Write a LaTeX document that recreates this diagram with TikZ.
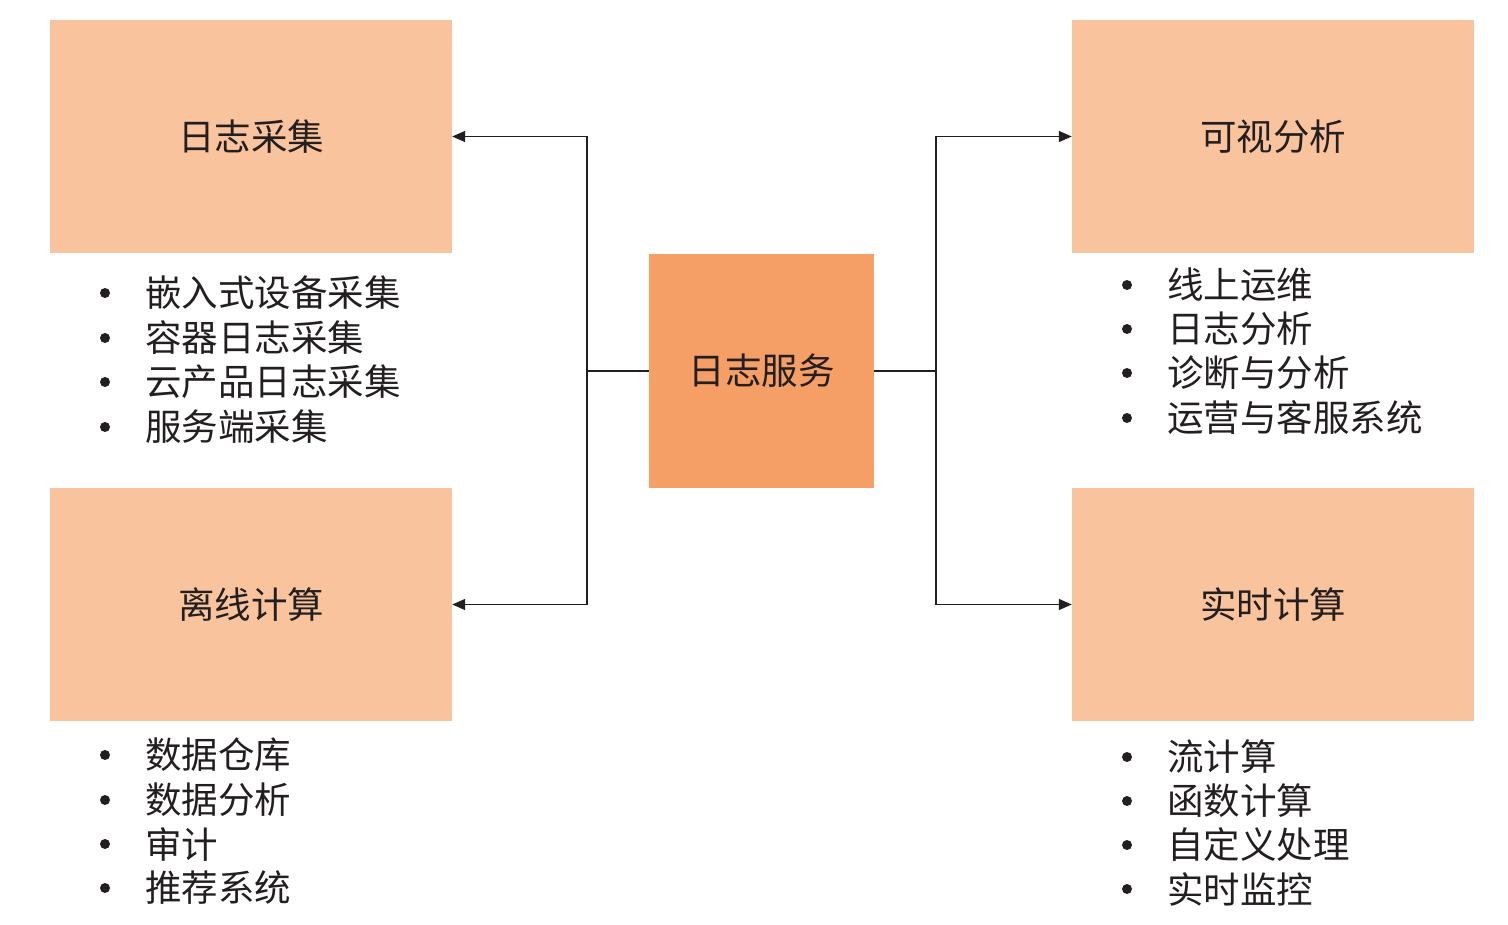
\documentclass[tikz,border=0pt]{standalone}
\usepackage{fontspec}
\setmainfont{Noto Sans CJK SC}
\usetikzlibrary{arrows.meta}
\definecolor{peach}{HTML}{F9C49D}
\definecolor{deep}{HTML}{F59E66}
\definecolor{ink}{HTML}{231F20}
\tikzset{
  box/.style={fill=peach, draw=none, inner sep=0pt, font=\fontsize{36.5}{40}\selectfont, text=ink},
  cbox/.style={fill=deep, draw=none, inner sep=0pt, font=\fontsize{36.5}{40}\selectfont, text=ink},
  item/.style={anchor=west, inner sep=0pt, font=\fontsize{36.5}{40}\selectfont, text=ink},
  dot/.style={circle, fill=ink, inner sep=0pt, minimum size=10pt},
  conn/.style={draw=ink, line width=1.4pt},
  arr/.style={conn, -{Triangle[length=13pt,width=11pt]}}
}
\begin{document}
\begin{tikzpicture}[x=1pt,y=-1pt]
\useasboundingbox (0,0) rectangle (1508,925);
% boxes
\node[box, minimum width=402pt, minimum height=233pt] (lt) at (251,136.5) {日志采集};
\node[box, minimum width=402pt, minimum height=233pt] (lb) at (251,604.5) {离线计算};
\node[box, minimum width=402pt, minimum height=233pt] (rt) at (1273,136.5) {可视分析};
\node[box, minimum width=402pt, minimum height=233pt] (rb) at (1273,604.5) {实时计算};
\node[cbox, minimum width=225pt, minimum height=234pt] (c) at (761.5,371) {日志服务};
% connectors
\coordinate (jl) at (587,371);
\coordinate (jr) at (936,371);
\draw[conn] (c.west) -- (jl);
\draw[arr] (jl) |- (lt.east);
\draw[arr] (jl) |- (lb.east);
\draw[conn] (c.east) -- (jr);
\draw[arr] (jr) |- (rt.west);
\draw[arr] (jr) |- (rb.west);
% left top list
\node[dot] (d1) at (105,293) {}; \node[item] (t1) at (145,293) {嵌入式设备采集};
\node[dot] (d2) at (105,338) {}; \node[item] (t2) at (145,338) {容器日志采集};
\node[dot] (d3) at (105,382) {}; \node[item] (t3) at (145,382) {云产品日志采集};
\node[dot] (d4) at (105,427) {}; \node[item] (t4) at (145,427) {服务端采集};
% left bottom list
\node[dot] (d5) at (105,755) {}; \node[item] (t5) at (145,755) {数据仓库};
\node[dot] (d6) at (105,800) {}; \node[item] (t6) at (145,800) {数据分析};
\node[dot] (d7) at (105,844) {}; \node[item] (t7) at (145,844) {审计};
\node[dot] (d8) at (105,888) {}; \node[item] (t8) at (145,888) {推荐系统};
% right top list
\node[dot] (d9) at (1127,285) {}; \node[item] (t9) at (1167,285) {线上运维};
\node[dot] (d10) at (1127,329) {}; \node[item] (t10) at (1167,329) {日志分析};
\node[dot] (d11) at (1127,373) {}; \node[item] (t11) at (1167,373) {诊断与分析};
\node[dot] (d12) at (1127,418) {}; \node[item] (t12) at (1167,418) {运营与客服系统};
% right bottom list
\node[dot] (d13) at (1127,757) {}; \node[item] (t13) at (1167,757) {流计算};
\node[dot] (d14) at (1127,801) {}; \node[item] (t14) at (1167,801) {函数计算};
\node[dot] (d15) at (1127,845) {}; \node[item] (t15) at (1167,845) {自定义处理};
\node[dot] (d16) at (1127,889) {}; \node[item] (t16) at (1167,889) {实时监控};
\end{tikzpicture}
\end{document}
